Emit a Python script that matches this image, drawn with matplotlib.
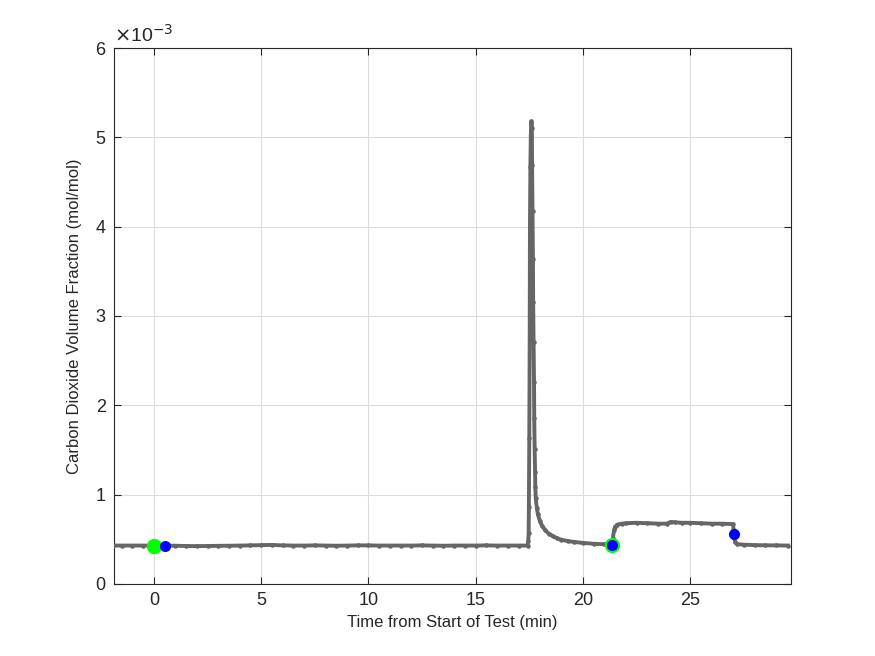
import numpy as np
import matplotlib.pyplot as plt

# time (min) and CO2 volume fraction (x 1e-3 mol/mol)
t_base = [-1.9, -1.5, -1.0, -0.5, 0.0, 0.5, 1.0, 1.5, 2.0, 2.5, 3.0, 3.5, 4.0, 4.5, 5.0,
          5.5, 6.0, 6.5, 7.0, 7.5, 8.0, 8.5, 9.0, 9.5, 10.0, 10.5, 11.0, 11.5, 12.0,
          12.5, 13.0, 13.5, 14.0, 14.5, 15.0, 15.5, 16.0, 16.5, 17.0, 17.43]
co2_base = [0.43, 0.43, 0.43, 0.43, 0.43, 0.43, 0.428, 0.425, 0.424, 0.425, 0.427, 0.428,
            0.43, 0.432, 0.435, 0.437, 0.432, 0.43, 0.43, 0.432, 0.43, 0.428, 0.43, 0.432,
            0.432, 0.43, 0.43, 0.43, 0.43, 0.432, 0.43, 0.428, 0.43, 0.43, 0.43, 0.432,
            0.43, 0.43, 0.43, 0.43]

t_peak = [17.45, 17.47, 17.48, 17.50, 17.52, 17.53, 17.55, 17.57, 17.60, 17.62, 17.63,
          17.65, 17.67, 17.68, 17.70, 17.72, 17.73, 17.75, 17.77, 17.78, 17.80, 17.85,
          17.90, 18.0, 18.1, 18.25, 18.4, 18.6, 18.8, 19.0, 19.3, 19.6, 20.0, 20.5,
          21.0, 21.3, 21.38]
co2_peak = [0.48, 0.57, 0.86, 1.63, 2.86, 3.96, 4.67, 5.02, 5.18, 5.10, 4.69, 4.17, 3.64,
            3.16, 2.71, 2.26, 1.86, 1.51, 1.25, 1.09, 0.96, 0.85, 0.78, 0.70, 0.65, 0.60,
            0.565, 0.535, 0.51, 0.495, 0.48, 0.47, 0.46, 0.45, 0.445, 0.44, 0.44]

t_step = [21.40, 21.45, 21.5, 21.6, 21.8, 22.0, 22.5, 23.0, 23.5, 23.9, 24.1, 24.3, 24.6,
          25.0, 25.5, 26.0, 26.5, 27.0, 27.02, 27.05, 27.1, 27.2, 27.5, 28.0, 28.5,
          29.0, 29.56]
co2_step = [0.52, 0.60, 0.64, 0.665, 0.675, 0.68, 0.685, 0.68, 0.675, 0.675, 0.695, 0.69,
            0.685, 0.685, 0.68, 0.675, 0.675, 0.67, 0.60, 0.52, 0.47, 0.445, 0.44, 0.435,
            0.433, 0.432, 0.43]

start_t = [0.0, 21.35]
start_co2 = [0.43, 0.437]
end_t = [0.5, 21.35, 27.02]
end_co2 = [0.43, 0.437, 0.556]

t = t_base + t_peak + t_step
co2 = co2_base + co2_peak + co2_step

plt.rcParams['font.family'] = ['Liberation Sans', 'DejaVu Sans']

fig = plt.figure(figsize=(8.75, 6.56), dpi=100)
ax = fig.add_axes([0.1303, 0.1098, 0.7737, 0.817])

ax.plot(t, co2, color='#666666', lw=2.8, marker='.', ms=4.5, zorder=3)
ax.plot(start_t, start_co2, 'o', color='#00ff00', ms=11, mec='none', ls='none', zorder=4)
ax.plot(end_t, end_co2, 'o', color='#0000ff', ms=8, mec='none', ls='none', zorder=5)

ax.set_xlim(-1.86, 29.7)
ax.set_ylim(0, 6)
ax.set_xticks([0, 5, 10, 15, 20, 25])
ax.set_yticks([0, 1, 2, 3, 4, 5, 6])
ax.grid(True, color='#dcdcdc', lw=0.8)
ax.set_axisbelow(True)
ax.tick_params(direction='in', top=True, right=True, labelsize=13, colors='#262626',
               length=5, pad=6)
for s in ax.spines.values():
    s.set_color('#262626')
    s.set_linewidth(0.8)

ax.set_xlabel('Time from Start of Test (min)', fontsize=12, color='#262626', labelpad=4)
ax.set_ylabel('Carbon Dioxide Volume Fraction (mol/mol)', fontsize=12, color='#262626',
              labelpad=10)
ax.text(0.0, 1.005, r'$\times$10$^{-3}$', transform=ax.transAxes, fontsize=14,
        color='#262626', va='bottom', ha='left')

fig.savefig('out.png', dpi=100, facecolor='white')
